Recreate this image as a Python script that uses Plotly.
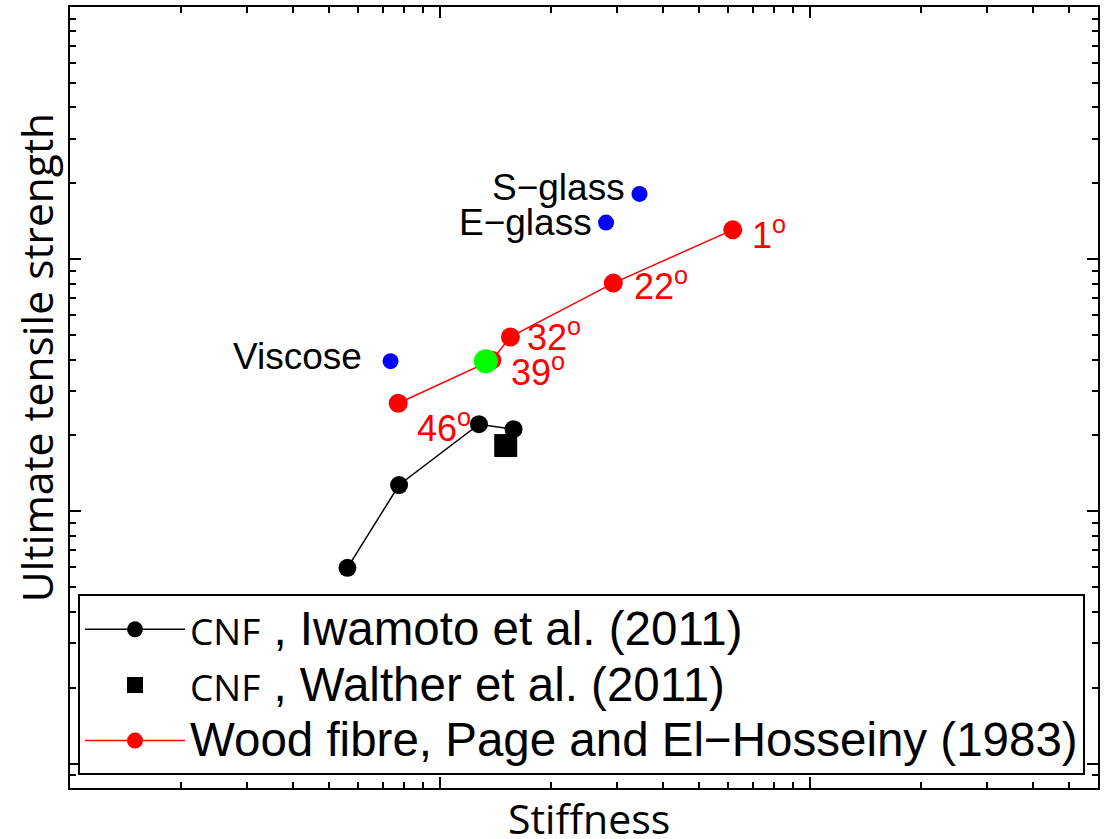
import numpy as np
import plotly.graph_objects as go

# ---------------- data (specific stiffness vs specific strength, log-log) ----------------
cnf_iwamoto_x = [5.62, 7.75, 12.74, 15.8]
cnf_iwamoto_y = [59.7, 127.2, 221.6, 211.7]

cnf_walther_x = [15.05]
cnf_walther_y = [182.4]

wood_angles = ["1", "22", "32", "39", "46"]
wood_x = [61.8, 29.4, 15.5, 13.8, 7.71]
wood_y = [1307, 803.7, 491.7, 397.8, 268.3]

other_names = ["S\u2212glass", "E\u2212glass", "Viscose"]
other_x = [34.6, 28.1, 7.35]
other_y = [1814, 1397, 394]

green_x = [13.3]
green_y = [394]

legend_labels = [
    ("CNF", " , Iwamoto et al. (2011)"),
    ("CNF", " , Walther et al. (2011)"),
    ("", "Wood fibre, Page and El\u2212Hosseiny (1983)"),
]

# ---------------- styling ----------------
FONT = "Liberation Sans"
other_shift = [(-13, 6), (-12, 0), (-27, 5)]
wood_shift = [(17, -3), (19, -1), (15, 2), (17, -10), (17, -23)]


def legend_text(prefix, rest):
    out = ""
    if prefix:
        out += '<span style="font-family:Open Sans;font-size:37px">%s</span>' % prefix
    out += '<span style="font-size:47.5px">%s</span>' % rest
    return out


fig = go.Figure()

fig.add_trace(go.Scatter(
    x=cnf_iwamoto_x, y=cnf_iwamoto_y, mode="lines+markers",
    name=legend_text(*legend_labels[0]),
    line=dict(color="black", width=1.5),
    marker=dict(color="black", size=18, symbol="circle"),
))
fig.add_trace(go.Scatter(
    x=cnf_walther_x, y=cnf_walther_y, mode="markers",
    name=legend_text(*legend_labels[1]),
    marker=dict(color="black", size=23, symbol="square"),
))
fig.add_trace(go.Scatter(
    x=wood_x, y=wood_y, mode="lines+markers",
    name=legend_text(*legend_labels[2]),
    line=dict(color="red", width=1.5),
    marker=dict(color="red", size=19, symbol="circle"),
))
fig.add_trace(go.Scatter(
    x=other_x, y=other_y, mode="markers", showlegend=False,
    marker=dict(color="blue", size=16, symbol="circle"),
))
fig.add_trace(go.Scatter(
    x=green_x, y=green_y, mode="markers", showlegend=False,
    marker=dict(color="#00ff00", size=24, symbol="circle"),
))

annotations = []
for name, x, y, (dx, dy) in zip(other_names, other_x, other_y, other_shift):
    annotations.append(dict(
        x=np.log10(x), y=np.log10(y), xref="x", yref="y", text=name, showarrow=False,
        xanchor="right", yanchor="middle", xshift=dx, yshift=dy,
        font=dict(family=FONT, size=37, color="black"),
    ))
for ang, x, y, (dx, dy) in zip(wood_angles, wood_x, wood_y, wood_shift):
    annotations.append(dict(
        x=np.log10(x), y=np.log10(y), xref="x", yref="y", text=ang + "<sup>o</sup>",
        showarrow=False, xanchor="left", yanchor="middle", xshift=dx, yshift=dy,
        font=dict(family=FONT, size=36, color="red"),
    ))

# axis titles
annotations.append(dict(
    x=(590 - 70) / 1029, y=(788 - 818) / 783, xref="paper", yref="paper",
    text="Stiffness", showarrow=False, xanchor="center", yanchor="middle",
    font=dict(family="Open Sans", size=41, color="black"),
))
annotations.append(dict(
    x=(36 - 70) / 1029, y=(788 - 357) / 783, xref="paper", yref="paper",
    text="Ultimate tensile strength", showarrow=False, textangle=-90,
    xanchor="center", yanchor="middle",
    font=dict(family="Open Sans", size=42.5, color="black"),
))

axis_common = dict(
    type="log", showgrid=False, zeroline=False, showticklabels=False,
    showline=True, linewidth=2, linecolor="black", mirror="allticks",
    ticks="inside", ticklen=11, tickwidth=1.5, tickcolor="black", dtick=1,
    minor=dict(dtick="D1", ticks="inside", ticklen=6, tickwidth=1.5,
               tickcolor="black", showgrid=False),
)

fig.update_layout(
    width=1105, height=839,
    margin=dict(l=70, r=6, t=5, b=51),
    paper_bgcolor="white", plot_bgcolor="white",
    xaxis=dict(range=[0, np.log10(600)], **axis_common),
    yaxis=dict(range=[np.log10(8), 4], **axis_common),
    annotations=annotations,
    showlegend=True,
    legend=dict(
        x=(78 - 70) / 1029, y=(788 - 594) / 783, xanchor="left", yanchor="top",
        bgcolor="white", bordercolor="black", borderwidth=2,
        font=dict(family=FONT, size=40.5, color="black"),
        itemwidth=100, tracegroupgap=0,
    ),
)

fig.write_html("out.html")
